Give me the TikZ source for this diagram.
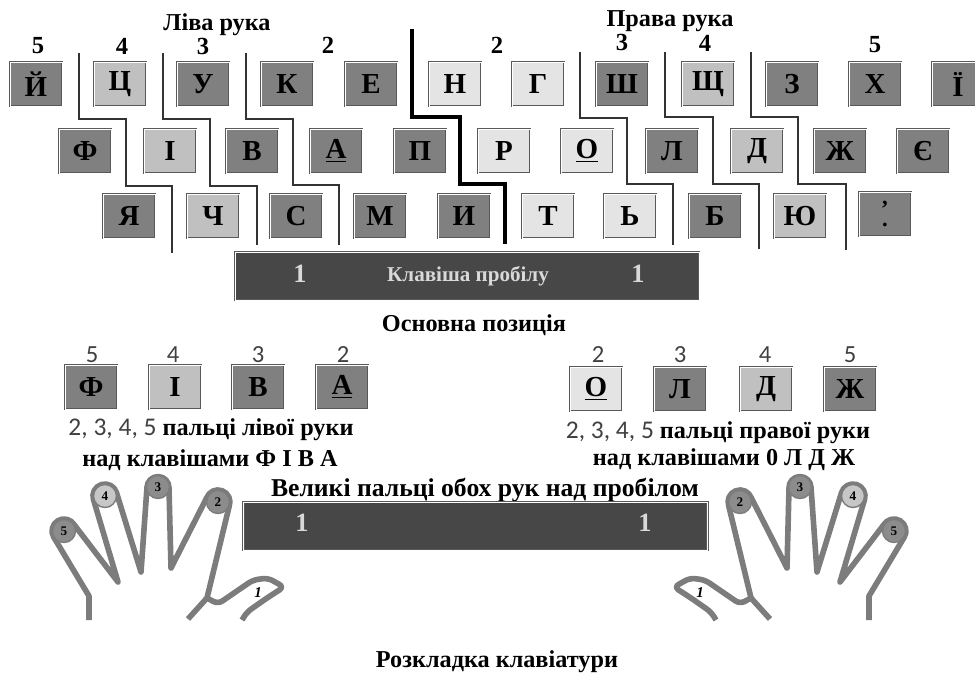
\documentclass[tikz,border=0pt]{standalone}
\usepackage{fontspec}
\setmainfont{Liberation Serif}
\newfontfamily\numfont{Carlito}

\definecolor{keydark}{HTML}{808080}
\definecolor{keylight}{HTML}{C0C0C0}
\definecolor{keypale}{HTML}{E4E4E4}
\definecolor{bargray}{HTML}{474747}
\definecolor{handgray}{HTML}{7C7C7C}

% outline of the left hand (fingers 5,4,3,2 and the thumb)
\newcommand\handoutline{%
  \draw[handline] (89,620) -- (89,596) -- (53.7,537.1)
    arc[start angle=149.5, end angle=329.5, radius=12] -- (118,582) -- (93.5,499.6)
    arc[start angle=162.6, end angle=342.6, radius=12] -- (141,572) -- (147,487.3)
    arc[start angle=181.4, end angle=361.4, radius=11] -- (171,568) -- (206.7,497.8)
    arc[start angle=200.3, end angle=380.3, radius=12] -- (207,598);
  \draw[handline, rounded corners=3pt] (207,598) -- (218,604) -- (253,580) -- (268,578)
    -- (284,587) -- (267,598) -- (247,612) -- (242,620);
  \draw[handline] (207,598) -- (188,619);
}

\begin{document}
\begin{tikzpicture}[x=0.2mm, y=-0.2mm]
    % Define styles
    \tikzset{
        key/.style={draw=black!65, line width=0.5pt, double=white, double distance=0.5pt,
            minimum width=10.4mm, minimum height=8.8mm, inner sep=0pt,
            font=\bfseries\fontsize{16.5}{16.5}\selectfont},
        dkey/.style={key, fill=keydark},
        lkey/.style={key, fill=keylight},
        pkey/.style={key, fill=keypale},
        spacebar/.style={key, fill=bargray, minimum width=92.8mm, minimum height=9.6mm},
        barlabel/.style={font=\bfseries\fontsize{15}{15}\selectfont, text=black!15, inner sep=0pt},
        title/.style={font=\bfseries\fontsize{13.8}{15}\selectfont, inner sep=0pt},
        fnum/.style={font=\bfseries\fontsize{14}{14}\selectfont, inner sep=0pt},
        hnum/.style={font=\numfont\fontsize{14}{14}\selectfont, text=black!75, inner sep=0pt},
        divider/.style={draw=black!80, line width=0.9pt},
        middle/.style={draw=black, line width=1.8pt},
        handline/.style={draw=handgray, line width=3.2pt, line join=round},
        tip/.style={circle, draw=handgray, line width=0.8pt, fill=black!45, minimum size=4.6mm,
            inner sep=0pt, font=\bfseries\fontsize{7.5}{7.5}\selectfont},
        ltip/.style={tip, fill=black!22}
    }
    \useasboundingbox (0,0) rectangle (975,675);

    % Hand titles and finger numbers over the keyboard
    \node[title] (left_hand) at (217,25) {Ліва рука};
    \node[title] (right_hand) at (670,21) {Права рука};
    \node[fnum] (l5) at (38,46) {5};
    \node[fnum] (l4) at (122,46) {4};
    \node[fnum] (l3) at (203,46) {3};
    \node[fnum] (l2) at (328,45) {2};
    \node[fnum] (r2) at (497,45) {2};
    \node[fnum] (r3) at (622,42) {3};
    \node[fnum] (r4) at (705,43) {4};
    \node[fnum] (r5) at (875,45) {5};

    % Top row
    \node[dkey] (key_q) at (36,84) {Й};
    \node[lkey] (key_w) at (120,84) {Ц};
    \node[dkey] (key_e) at (203,84) {У};
    \node[dkey] (key_r) at (287,84) {К};
    \node[dkey] (key_t) at (371,84) {Е};
    \node[pkey] (key_y) at (455,84) {Н};
    \node[pkey] (key_u) at (538,84) {Г};
    \node[dkey] (key_i) at (622,84) {Ш};
    \node[lkey] (key_o) at (708,84) {Щ};
    \node[dkey] (key_p) at (792,84) {З};
    \node[dkey] (key_lb) at (875,84) {Х};
    \node[dkey] (key_rb) at (958,84) {Ї};

    % Home row
    \node[dkey] (key_a) at (85,151) {Ф};
    \node[lkey] (key_s) at (170,151) {І};
    \node[dkey] (key_d) at (252,151) {В};
    \node[dkey] (key_f) at (336,151) {\underline{А}};
    \node[dkey] (key_g) at (420,151) {П};
    \node[pkey] (key_h) at (504,151) {Р};
    \node[pkey] (key_j) at (587,151) {\underline{О}};
    \node[dkey] (key_k) at (672,151) {Л};
    \node[lkey] (key_l) at (757,151) {Д};
    \node[dkey] (key_sc) at (840,151) {Ж};
    \node[dkey] (key_ap) at (923,151) {Є};

    % Bottom row
    \node[dkey] (key_z) at (129,216) {Я};
    \node[lkey] (key_x) at (213,216) {Ч};
    \node[dkey] (key_c) at (296,216) {С};
    \node[dkey] (key_v) at (380,216) {М};
    \node[dkey] (key_b) at (464,216) {И};
    \node[pkey] (key_n) at (548,216) {Т};
    \node[pkey] (key_m) at (630,216) {Ь};
    \node[dkey] (key_cm) at (715,216) {Б};
    \node[lkey] (key_pd) at (800,216) {Ю};
    \node[dkey, align=center, font=\bfseries\fontsize{13}{12}\selectfont] (key_sl) at (885,214) {,\\.};

    % Space bar
    \node[spacebar] (space) at (467,276) {};
    \node[barlabel] (space_l) at (300,274) {1};
    \node[barlabel, font=\bfseries\fontsize{12}{12}\selectfont] (space_t) at (468,276) {Клавіша пробілу};
    \node[barlabel] (space_r) at (638,274) {1};

    % Finger zones
    \draw[divider] (79,53) -- (79,119) -- (126,119) -- (126,186) -- (172,186) -- (172,253);
    \draw[divider] (163,53) -- (163,119) -- (210,119) -- (210,186) -- (257,186) -- (257,245);
    \draw[divider] (246,53) -- (246,119) -- (293,119) -- (293,185) -- (339,185) -- (339,245);
    \draw[middle] (412,29) -- (412,117) -- (460,117) -- (460,184) -- (505,184) -- (505,244);
    \draw[divider] (580,52) -- (580,118) -- (627,118) -- (627,184) -- (673,184) -- (673,245);
    \draw[divider] (665,52) -- (665,117) -- (713,117) -- (713,184) -- (759,184) -- (759,249);
    \draw[divider] (751,52) -- (751,117) -- (798,117) -- (798,184) -- (846,184) -- (846,250);

    % Home position
    \node[title] (home) at (474,325) {Основна позиція};
    \node[hnum] (hl5) at (92,355) {5};
    \node[hnum] (hl4) at (173,355) {4};
    \node[hnum] (hl3) at (258,355) {3};
    \node[hnum] (hl2) at (343,355) {2};
    \node[dkey] (home_a) at (91,387) {Ф};
    \node[lkey] (home_s) at (175,387) {І};
    \node[dkey] (home_d) at (258,387) {В};
    \node[dkey] (home_f) at (342,387) {\underline{А}};
    \node[hnum] (hr2) at (598,355) {2};
    \node[hnum] (hr3) at (680,355) {3};
    \node[hnum] (hr4) at (765,355) {4};
    \node[hnum] (hr5) at (850,355) {5};
    \node[pkey] (home_j) at (596,389) {\underline{О}};
    \node[dkey] (home_k) at (680,389) {Л};
    \node[lkey] (home_l) at (766,389) {Д};
    \node[dkey] (home_sc) at (850,389) {Ж};

    \node[title] (left_note) at (211,430) {{\numfont\mdseries\fontsize{14.5}{14}\selectfont\color{black!75}2, 3, 4, 5} пальці лівої руки};
    \node[title] (left_keys) at (210,460) {над клавішами Ф І В А};
    \node[title] (right_note) at (718,433) {{\numfont\mdseries\fontsize{14.5}{14}\selectfont\color{black!75}2, 3, 4, 5} пальці правої руки};
    \node[title] (right_keys) at (724,460) {над клавішами 0 Л Д Ж};

    % Thumbs over the space bar
    \node[title, font=\bfseries\fontsize{14.6}{15}\selectfont] (thumbs) at (485,490) {Великі пальці обох рук над пробілом};
    \node[spacebar] (space2) at (475.5,526) {};
    \node[barlabel] (space2_l) at (302,523) {1};
    \node[barlabel] (space2_r) at (645,523) {1};

    % Hands
    \handoutline
    \begin{scope}[shift={(958,0)}, xscale=-1]
        \handoutline
    \end{scope}
    \node[tip] (lf5) at (64,531) {5};
    \node[ltip] (lf4) at (105,496) {4};
    \node[tip] (lf3) at (158,487) {3};
    \node[tip] (lf2) at (218,502) {2};
    \node[font=\bfseries\itshape\fontsize{8.5}{8.5}\selectfont, inner sep=0pt] (lf1) at (258,593) {1};
    \node[tip] (rf2) at (740,502) {2};
    \node[tip] (rf3) at (800,487) {3};
    \node[ltip] (rf4) at (853,496) {4};
    \node[tip] (rf5) at (894,531) {5};
    \node[font=\bfseries\itshape\fontsize{8.5}{8.5}\selectfont, inner sep=0pt] (rf1) at (700,593) {1};

    % Caption
    \node[title] (caption) at (497,662) {Розкладка клавіатури};
\end{tikzpicture}
\end{document}
